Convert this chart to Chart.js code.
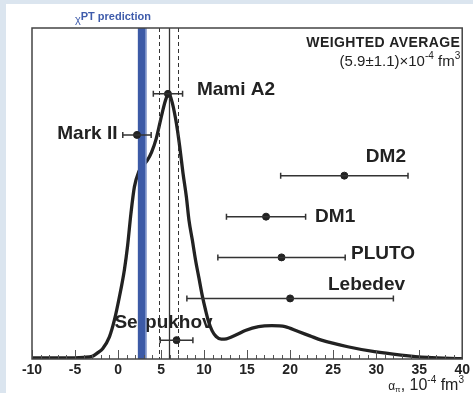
<!DOCTYPE html>
<html>
<head>
<meta charset="utf-8">
<script src="https://cdn.jsdelivr.net/npm/chart.js@4"></script>
<style>
  html, body { margin:0; padding:0; background:#fff; }
  #wrap { position:relative; width:473px; height:393px; }
</style>
</head>
<body>
<div id="wrap"><canvas id="chart"></canvas></div>
<script>
// likelihood curve (x in 1e-4 fm^3, y in arbitrary units 0..100)
const curveX = [-10, -6, -4, -3, -2.3, -1.77, -1.0, -0.42, 0.16, 0.74, 1.1, 1.5, 1.9, 2.4, 2.9, 3.4, 3.9, 4.43, 5.13, 5.6, 5.95, 6.32, 6.78, 7.17, 7.55, 7.94, 8.24, 8.63, 9.0, 9.4, 9.8, 10.17, 10.5, 10.94, 11.4, 12.0, 12.6, 13.24, 14.0, 14.79, 16.33, 17.87, 19.41, 20.95, 22.3, 23.64, 26.7, 29.8, 32.9, 35.96, 40];
const curveY = [0.3, 0.3, 0.5, 0.8, 2, 3.2, 6.7, 11.8, 18.8, 27, 34, 44, 52, 56.5, 58.5, 60, 62.5, 66.5, 74.3, 78.8, 80, 77.2, 71.2, 64.1, 56.1, 49.0, 42.0, 36, 30, 24.5, 19, 14.8, 11.5, 8.5, 6.8, 6.0, 6.1, 6.7, 7.6, 8.6, 9.8, 10.1, 9.8, 8.3, 7.0, 5.7, 3.7, 2.2, 1.2, 0.5, 0.1];

// experiments
const expNames  = ['Mami A2', 'Mark II', 'DM2', 'DM1', 'PLUTO', 'Lebedev', 'Serpukhov'];
const expValues = [5.8, 2.2, 26.3, 17.2, 19.0, 20.0, 6.8];
const expErrors = [1.7, 1.65, 7.4, 4.6, 7.4, 12.0, 1.9];
const expRows   = [80.1, 67.7, 55.4, 43.0, 30.7, 18.3, 5.7];

// weighted average and chiPT band
const avgValue = 5.9, avgError = 1.1;
const chptBand = [2.3, 3.3];

const xTicks = [-10, -5, 0, 5, 10, 15, 20, 25, 30, 35, 40];

// label placement (data coords)
const labelPos = {
  'Mami A2':  { x: 9.17,  y: 81.3, align: 'left' },
  'Mark II':  { x: -0.07, y: 68.0, align: 'right' },
  'DM2':      { x: 28.8,  y: 61.0, align: 'left' },
  'DM1':      { x: 22.9,  y: 42.9, align: 'left' },
  'PLUTO':    { x: 27.07, y: 31.7, align: 'left' },
  'Lebedev':  { x: 24.4,  y: 22.4, align: 'left' },
  'Serpukhov':{ x: -0.42, y: 10.9, align: 'left' }
};

const FONT = '"Liberation Sans", Arial, sans-serif';
const INK = '#222';

function rich(ctx, parts, x, y, align) {
  let w = 0;
  parts.forEach(p => { ctx.font = p.f; w += ctx.measureText(p.t).width; });
  let cx = align === 'right' ? x - w : (align === 'center' ? x - w / 2 : x);
  ctx.textAlign = 'left';
  ctx.textBaseline = 'alphabetic';
  parts.forEach(p => { ctx.font = p.f; ctx.fillText(p.t, cx, y + (p.dy || 0)); cx += ctx.measureText(p.t).width; });
}

function drawLabel(chart, name) {
  const ctx = chart.ctx, xs = chart.scales.x, ys = chart.scales.y;
  const lp = labelPos[name];
  ctx.save();
  ctx.fillStyle = INK;
  ctx.font = 'bold 19px ' + FONT;
  ctx.textAlign = lp.align;
  ctx.textBaseline = 'middle';
  ctx.fillText(name, xs.getPixelForValue(lp.x), ys.getPixelForValue(lp.y));
  ctx.restore();
}

const decor = {
  id: 'decor',
  beforeDraw(chart) {
    const ctx = chart.ctx;
    ctx.save();
    ctx.fillStyle = '#dbe5ef';
    ctx.fillRect(0, 0, chart.width, chart.height);
    ctx.fillStyle = '#fff';
    ctx.fillRect(6, 4, chart.width - 6, chart.height - 4);
    ctx.restore();
  },
  beforeDatasetsDraw(chart) {
    drawLabel(chart, 'Serpukhov');
  },
  afterDatasetDraw(chart, args) {
    if (args.index !== 1) return; // after the curve
    const ctx = chart.ctx, xs = chart.scales.x, a = chart.chartArea;
    ctx.save();
    // average lines
    ctx.strokeStyle = '#333';
    ctx.lineWidth = 1.3;
    let px = Math.round(xs.getPixelForValue(avgValue)) + 0.5;
    ctx.beginPath(); ctx.moveTo(px, a.top); ctx.lineTo(px, a.bottom); ctx.stroke();
    ctx.lineWidth = 1;
    ctx.setLineDash([4, 3]);
    [avgValue - avgError, avgValue + avgError].forEach(v => {
      const p = Math.round(xs.getPixelForValue(v)) + 0.5;
      ctx.beginPath(); ctx.moveTo(p, a.top); ctx.lineTo(p, a.bottom); ctx.stroke();
    });
    ctx.setLineDash([]);
    // chiPT band
    const b0 = xs.getPixelForValue(chptBand[0]), b1 = xs.getPixelForValue(chptBand[1]);
    ctx.fillStyle = '#3c5aa6';
    ctx.fillRect(b0, a.top, b1 - b0, a.bottom - a.top);
    ctx.fillStyle = '#8ea3d3';
    ctx.fillRect(b1 - 1.2, a.top, 1.2, a.bottom - a.top);
    ctx.restore();
  },
  afterDatasetsDraw(chart) {
    const ctx = chart.ctx, xs = chart.scales.x, ys = chart.scales.y, a = chart.chartArea;
    ctx.save();
    // error bars
    ctx.strokeStyle = '#333';
    ctx.lineWidth = 1.5;
    expValues.forEach((v, i) => {
      const y = ys.getPixelForValue(expRows[i]);
      const l = xs.getPixelForValue(v - expErrors[i]), r = xs.getPixelForValue(v + expErrors[i]);
      ctx.beginPath();
      ctx.moveTo(l, y); ctx.lineTo(r, y);
      ctx.moveTo(l, y - 3); ctx.lineTo(l, y + 3);
      ctx.moveTo(r, y - 3); ctx.lineTo(r, y + 3);
      ctx.stroke();
    });
    // bottom ticks inside frame
    ctx.strokeStyle = '#555';
    ctx.lineWidth = 1;
    for (let v = xTicks[0]; v <= xTicks[xTicks.length - 1]; v++) {
      const p = Math.round(xs.getPixelForValue(v)) + 0.5;
      const len = v % 5 === 0 ? 9 : 4;
      ctx.beginPath(); ctx.moveTo(p, a.bottom); ctx.lineTo(p, a.bottom - len); ctx.stroke();
    }
    // frame
    ctx.strokeStyle = '#444';
    ctx.lineWidth = 1.5;
    ctx.strokeRect(a.left, a.top, a.right - a.left, a.bottom - a.top);
    ctx.restore();

    expNames.forEach(n => { if (n !== 'Serpukhov') drawLabel(chart, n); });

    ctx.save();
    ctx.fillStyle = INK;
    ctx.textAlign = 'right';
    ctx.textBaseline = 'alphabetic';
    ctx.font = 'bold 14px ' + FONT;
    if ('letterSpacing' in ctx) ctx.letterSpacing = '0.4px';
    ctx.fillText('WEIGHTED AVERAGE', a.right - 2, 47);
    if ('letterSpacing' in ctx) ctx.letterSpacing = '0px';
    rich(ctx, [
      { t: '(' + avgValue.toFixed(1) + '±' + avgError.toFixed(1) + ')×10', f: '15px ' + FONT },
      { t: '-4', f: '10px ' + FONT, dy: -7 },
      { t: ' fm', f: '15px ' + FONT },
      { t: '3', f: '10px ' + FONT, dy: -7 }
    ], a.right - 2, 66, 'right');
    // chiPT label
    ctx.fillStyle = '#3f5cab';
    rich(ctx, [
      { t: 'χ', f: '11px ' + FONT, dy: 3 },
      { t: 'PT prediction', f: 'bold 11px ' + FONT }
    ], 113, 20, 'center');
    // axis title
    ctx.fillStyle = INK;
    rich(ctx, [
      { t: 'α', f: '12px ' + FONT },
      { t: 'π', f: '8px ' + FONT, dy: 2 },
      { t: ', 10', f: '16px ' + FONT },
      { t: '-4', f: '10px ' + FONT, dy: -7 },
      { t: ' fm', f: '16px ' + FONT },
      { t: '3', f: '10px ' + FONT, dy: -7 }
    ], 464, 390, 'right');
    ctx.restore();
  }
};

new Chart(document.getElementById('chart'), {
  data: {
    datasets: [
      {
        type: 'scatter',
        data: expValues.map((v, i) => ({ x: v, y: expRows[i] })),
        pointRadius: 3.5,
        pointBackgroundColor: INK,
        pointBorderColor: INK,
        order: 0
      },
      {
        type: 'line',
        data: curveX.map((x, i) => ({ x: x, y: curveY[i] })),
        borderColor: INK,
        borderWidth: 3.3,
        pointRadius: 0,
        cubicInterpolationMode: 'monotone',
        fill: false,
        order: 1
      }
    ]
  },
  options: {
    responsive: true,
    maintainAspectRatio: false,
    animation: false,
    layout: { padding: { left: 32, right: 8, top: 28, bottom: 0 } },
    plugins: { legend: { display: false }, tooltip: { enabled: false } },
    scales: {
      x: {
        type: 'linear',
        min: -10, max: 40,
        afterFit(scale) { scale.height = 34; },
        afterBuildTicks(scale) { scale.ticks = xTicks.map(v => ({ value: v })); },
        ticks: { color: INK, padding: 3, font: { family: FONT, size: 14, weight: 'bold' } },
        grid: { display: false, drawTicks: false },
        border: { display: false }
      },
      y: {
        type: 'linear',
        min: 0, max: 100,
        display: false
      }
    }
  },
  plugins: [decor]
});
</script>
</body>
</html>
